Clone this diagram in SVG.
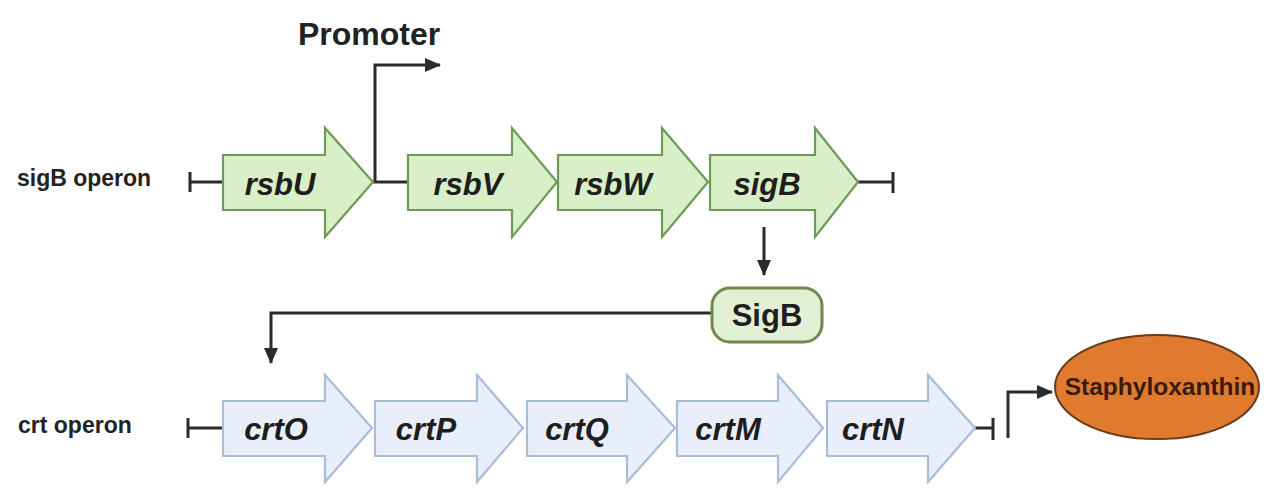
<svg xmlns="http://www.w3.org/2000/svg" width="1284" height="500" viewBox="0 0 1284 500">
<style>
.gene-g{fill:#d8efc8;stroke:#6e9a58;stroke-width:2.2;stroke-linejoin:miter}
.gene-b{fill:#e8effa;stroke:#a8bdd6;stroke-width:2.2}
.glabel{font-family:"Liberation Sans",Arial,sans-serif;font-weight:bold;font-style:italic;font-size:31px;fill:#1e1e1e;text-anchor:middle}
.olabel{font-family:"Liberation Sans",Arial,sans-serif;font-weight:bold;font-size:23px;fill:#222}
.conn{fill:none;stroke:#2b2b2b;stroke-width:3}
.term{fill:none;stroke:#2b2b2b;stroke-width:3}
</style>
<defs>
<marker id="ah" markerUnits="userSpaceOnUse" markerWidth="16" markerHeight="16" viewBox="0 0 16 16" refX="15" refY="8" orient="auto">
<path d="M0,1 L16,8 L0,15 Z" fill="#2b2b2b"/>
</marker>
</defs>
<rect width="1284" height="500" fill="#ffffff"/>

<text x="298" y="45" font-family="'Liberation Sans',Arial,sans-serif" font-weight="bold" font-size="32" fill="#222">Promoter</text>
<text class="olabel" x="17" y="186">sigB operon</text>
<text class="olabel" x="18" y="433">crt operon</text>

<g id="connectors">
<path class="term" d="M190,172 V192 M190,182 H223"/>
<path class="conn" d="M373,182 H408"/>
<path class="conn" d="M375,182 V65 H440" marker-end="url(#ah)"/>
<path class="term" d="M858,182 H893 M893,172 V193"/>
<path class="conn" d="M764,227 V275" marker-end="url(#ah)"/>
<path class="conn" d="M712,313 H271 V363" marker-end="url(#ah)"/>
<path class="term" d="M188,418 V438 M188,428 H223"/>
<path class="term" d="M975,428 H993 M993,418 V440"/>
<path class="conn" d="M1008,438 V392 H1052" marker-end="url(#ah)"/>
</g>

<g id="rsbU"><path class="gene-g" d="M223,155 H325 V128 L373,182 L325,237 V210 H223 Z"/><text class="glabel" x="280" y="195">rsbU</text></g>
<g id="rsbV"><path class="gene-g" d="M408,155 H512 V128 L557,182 L512,237 V210 H408 Z"/><text class="glabel" x="468" y="195">rsbV</text></g>
<g id="rsbW"><path class="gene-g" d="M558,155 H662 V128 L708,182 L662,237 V210 H558 Z"/><text class="glabel" x="613" y="195">rsbW</text></g>
<g id="sigB"><path class="gene-g" d="M710,155 H815 V128 L858,182 L815,237 V210 H710 Z"/><text class="glabel" x="767" y="195">sigB</text></g>

<g id="SigB"><rect x="712" y="288" width="110" height="54" rx="18" fill="#e2f1d3" stroke="#6f8a4e" stroke-width="3"/><text x="767" y="326" font-family="'Liberation Sans',Arial,sans-serif" font-weight="bold" font-size="31" fill="#1e1e1e" text-anchor="middle">SigB</text></g>

<g id="crtO"><path class="gene-b" d="M223,401 H325 V375 L372,428 L325,482 V456 H223 Z"/><text class="glabel" x="276" y="440">crtO</text></g>
<g id="crtP"><path class="gene-b" d="M375,401 H477 V375 L523,428 L477,482 V456 H375 Z"/><text class="glabel" x="426" y="440">crtP</text></g>
<g id="crtQ"><path class="gene-b" d="M527,401 H627 V375 L675,428 L627,482 V456 H527 Z"/><text class="glabel" x="577" y="440">crtQ</text></g>
<g id="crtM"><path class="gene-b" d="M677,401 H778 V375 L823,428 L778,482 V456 H677 Z"/><text class="glabel" x="728" y="440">crtM</text></g>
<g id="crtN"><path class="gene-b" d="M827,401 H928 V375 L975,428 L928,482 V456 H827 Z"/><text class="glabel" x="873" y="440">crtN</text></g>

<g id="Staphyloxanthin"><ellipse cx="1157" cy="387" rx="102" ry="52" fill="#e07a2e" stroke="#6b3a1a" stroke-width="2"/><text x="1160" y="395" font-family="'Liberation Sans',Arial,sans-serif" font-weight="bold" font-size="24.5" fill="#3a1a0c" text-anchor="middle">Staphyloxanthin</text></g>
</svg>
